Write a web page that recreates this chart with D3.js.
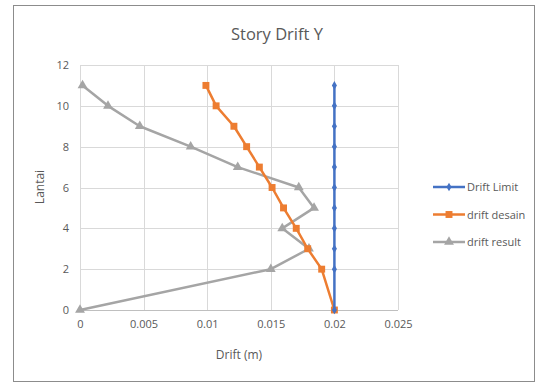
<!DOCTYPE html>
<html>
<head>
<meta charset="utf-8">
<script src="https://cdn.jsdelivr.net/npm/d3@7"></script>
<style>
  body { margin: 0; background: #fff; }
  text { font-family: 'Open Sans', sans-serif; fill: #595959; }
</style>
</head>
<body>
<div id="chart"></div>
<script>
// data
const floorsLimit = [0, 2, 3, 4, 5, 6, 7, 8, 9, 10, 11]
const driftLimit = [0.02, 0.02, 0.02, 0.02, 0.02, 0.02, 0.02, 0.02, 0.02, 0.02, 0.02]
const floorsDesain = [0, 2, 3, 4, 5, 6, 7, 8, 9, 10, 11]
const driftDesain = [0.02, 0.019, 0.0179, 0.017, 0.016, 0.0151, 0.0141, 0.0131, 0.0121, 0.0107, 0.0099]
const floorsResult = [0, 2, 3, 4, 5, 6, 7, 8, 9, 10, 11]
const driftResult = [0, 0.015, 0.018, 0.0159, 0.0184, 0.0172, 0.0124, 0.0087, 0.0047, 0.0022, 0.0002]
const xTicks = [0, 0.005, 0.01, 0.015, 0.02, 0.025]
const yTicks = [0, 2, 4, 6, 8, 10, 12]
const seriesNames = ['Drift Limit', 'drift desain', 'drift result']
const seriesColors = ['#4472C4', '#ED7D31', '#A5A5A5']

const width = 535
const height = 383

const svg = d3.select('#chart').append('svg')
  .attr('width', width)
  .attr('height', height)

// outer chart frame
svg.append('rect')
  .attr('x', 13.5).attr('y', 5.5)
  .attr('width', 521).attr('height', 376)
  .attr('fill', '#fff')
  .attr('stroke', '#8c8c8c')

const x = d3.scaleLinear().domain([0, 0.025]).range([80, 398])
const y = d3.scaleLinear().domain([0, 12]).range([310, 65])

// gridlines
svg.append('g').selectAll('line')
  .data(yTicks.slice(1))
  .enter().append('line')
  .attr('x1', x(0)).attr('x2', x(0.025))
  .attr('y1', d => Math.round(y(d)) + 0.5).attr('y2', d => Math.round(y(d)) + 0.5)
  .attr('stroke', '#d9d9d9')

svg.append('g').selectAll('line')
  .data(xTicks)
  .enter().append('line')
  .attr('x1', d => Math.round(x(d)) + 0.5).attr('x2', d => Math.round(x(d)) + 0.5)
  .attr('y1', y(0)).attr('y2', y(12))
  .attr('stroke', '#d9d9d9')

// bottom axis line
svg.append('line')
  .attr('x1', x(0)).attr('x2', x(0.025))
  .attr('y1', Math.round(y(0)) + 0.5).attr('y2', Math.round(y(0)) + 0.5)
  .attr('stroke', '#bfbfbf')

// axes labels via d3 axes
const xAxis = svg.append('g')
  .attr('transform', `translate(0,${y(0) + 5})`)
  .call(d3.axisBottom(x).tickValues(xTicks).tickSize(0).tickFormat(d => d3.format('')(+d.toFixed(3))))
xAxis.select('.domain').remove()
xAxis.selectAll('text').attr('font-size', 11).attr('fill', '#595959').attr('dy', '0.9em')
  .style('font-family', "'Open Sans', sans-serif")

const yAxis = svg.append('g')
  .attr('transform', `translate(${x(0) - 8},0)`)
  .call(d3.axisLeft(y).tickValues(yTicks).tickSize(0))
yAxis.select('.domain').remove()
yAxis.selectAll('text').attr('font-size', 11).attr('fill', '#595959')
  .style('font-family', "'Open Sans', sans-serif")

// titles
svg.append('text')
  .attr('x', 277).attr('y', 40)
  .attr('text-anchor', 'middle')
  .attr('font-size', 16.5)
  .text('Story Drift Y')

svg.append('text')
  .attr('x', 239).attr('y', 359)
  .attr('text-anchor', 'middle')
  .attr('font-size', 12)
  .text('Drift (m)')

svg.append('text')
  .attr('transform', 'translate(44,187) rotate(-90)')
  .attr('text-anchor', 'middle')
  .attr('font-size', 12)
  .text('Lantai')

// series
const series = [
  { name: seriesNames[0], color: seriesColors[0], shape: d3.symbolDiamond, size: 22, pts: driftLimit.map((d, i) => [d, floorsLimit[i]]) },
  { name: seriesNames[1], color: seriesColors[1], shape: d3.symbolSquare, size: 48, pts: driftDesain.map((d, i) => [d, floorsDesain[i]]) },
  { name: seriesNames[2], color: seriesColors[2], shape: d3.symbolTriangle, size: 42, pts: driftResult.map((d, i) => [d, floorsResult[i]]) }
]

const line = d3.line().x(d => x(d[0])).y(d => y(d[1]))

// draw result first, then desain, then limit on top
const order = [2, 1, 0]
order.forEach(k => {
  const s = series[k]
  svg.append('path')
    .attr('d', line(s.pts))
    .attr('fill', 'none')
    .attr('stroke', s.color)
    .attr('stroke-width', 2.5)
    .attr('stroke-linejoin', 'round')
  svg.append('g').selectAll('path')
    .data(s.pts)
    .enter().append('path')
    .attr('transform', d => `translate(${x(d[0])},${y(d[1])})`)
    .attr('d', d3.symbol().type(s.shape).size(s.size))
    .attr('fill', s.color)
})

// legend
const legend = svg.append('g')
series.forEach((s, i) => {
  const ly = 187 + i * 27.5
  legend.append('line')
    .attr('x1', 433).attr('x2', 465)
    .attr('y1', ly).attr('y2', ly)
    .attr('stroke', s.color).attr('stroke-width', 2.5)
  legend.append('path')
    .attr('transform', `translate(449,${ly})`)
    .attr('d', d3.symbol().type(s.shape).size(s.size))
    .attr('fill', s.color)
  legend.append('text')
    .attr('x', 467).attr('y', ly + 4)
    .attr('font-size', 11)
    .text(s.name)
})
</script>
</body>
</html>
